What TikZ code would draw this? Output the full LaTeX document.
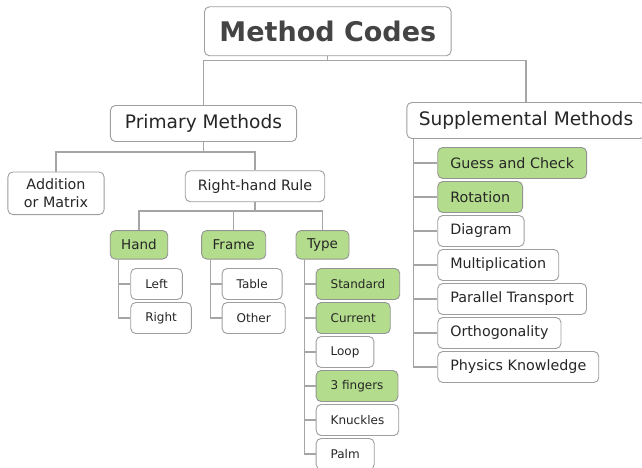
\documentclass[tikz,border=0pt]{standalone}
\usepackage{fontspec}
\setmainfont{DejaVu Sans}
\usepackage{tikz}
\definecolor{leafgreen}{HTML}{B3DD8C}
\definecolor{linegray}{HTML}{A5A5A5}
\definecolor{rimgray}{HTML}{9E9E9E}
\definecolor{inkgray}{HTML}{444444}
\begin{document}
\begin{tikzpicture}[x=1pt,y=-1pt,every text node part/.style={align=center},
box/.style={draw=rimgray,line width=0.9pt,rounded corners=5pt,fill=white,text=black!85,inner ysep=0pt},
topicbox/.style={box,font=\fontsize{27}{32}\selectfont\bfseries,text=inkgray,minimum height=49pt,inner xsep=15pt},
mainbox/.style={box,font=\fontsize{18.6}{22}\selectfont,minimum height=36pt,inner xsep=14.5pt},
branchbox/.style={box,font=\fontsize{14.3}{17.6}\selectfont,minimum height=31pt,inner xsep=12.5pt},
groupbox/.style={box,font=\fontsize{13.5}{16}\selectfont,minimum height=28.5pt,inner xsep=11pt},
leafbox/.style={box,font=\fontsize{12}{14}\selectfont,minimum height=31pt,inner xsep=14.5pt,anchor=west},
picked/.style={fill=leafgreen,draw=gray!85},
link/.style={draw=linegray,line width=1.1pt}]
\useasboundingbox (0,0) rectangle (642,468);
% top levels
\node [topicbox] (codes) at (327.8,31.3) {Method Codes};
\node [mainbox] (primary) at (203.5,123.5) {Primary Methods};
\node [mainbox,inner xsep=12pt] (suppl) at (526,120.5) {Supplemental Methods};
\node [branchbox,inner xsep=16pt,inner ysep=7pt] (addmat) at (56,193.3) {Addition\\or Matrix};
\node [branchbox] (rhrule) at (255,186.2) {Right-hand Rule};
\node [groupbox,picked] (hand) at (139,244.8) {Hand};
\node [groupbox,picked] (frame) at (233.7,244.8) {Frame};
\node [groupbox,picked] (type) at (322.5,244.8) {Type};
% leaves
\node [leafbox] (left) at (130.3,284) {Left};
\node [leafbox] (right) at (130.3,318) {Right};
\node [leafbox] (table) at (221.7,284) {Table};
\node [leafbox] (other) at (221.7,318) {Other};
\node [leafbox,picked] (standard) at (315.7,284) {Standard};
\node [leafbox,picked] (current) at (315.7,318) {Current};
\node [leafbox] (loop) at (315.7,352) {Loop};
\node [leafbox,picked] (fingers) at (315.7,386) {3 fingers};
\node [leafbox] (knuckles) at (315.7,420) {Knuckles};
\node [leafbox] (palm) at (315.7,454) {Palm};
\node [branchbox,anchor=west,picked] (guess) at (437.3,163) {Guess and Check};
\node [branchbox,anchor=west,picked] (rotation) at (437.3,197) {Rotation};
\node [branchbox,anchor=west] (diagram) at (437.3,231) {Diagram};
\node [branchbox,anchor=west] (multi) at (437.3,265) {Multiplication};
\node [branchbox,anchor=west] (parallel) at (437.3,299) {Parallel Transport};
\node [branchbox,anchor=west] (ortho) at (437.3,333) {Orthogonality};
\node [branchbox,anchor=west] (physics) at (437.3,367) {Physics Knowledge};
% connectors
\coordinate (barA) at (0,60.3);
\coordinate (barB) at (0,152);
\coordinate (barC) at (0,211);
\draw [link] (codes.south) -- (codes.south |- barA);
\draw [link] (primary.north) |- (codes.south |- barA) -| (suppl.north);
\draw [link] (primary.south) -- (primary.south |- barB);
\draw [link] (addmat.north) |- (primary.south |- barB) -| (rhrule.north);
\draw [link] (rhrule.south) -- (rhrule.south |- barC);
\draw [link] (hand.north) |- (rhrule.south |- barC) -| (type.north);
\draw [link] (frame.north) -- (frame.north |- barC);
\foreach \leaf in {left,right}
  \draw [link] ([xshift=8.3pt]hand.south west) |- (\leaf.west);
\foreach \leaf in {table,other}
  \draw [link] ([xshift=9.3pt]frame.south west) |- (\leaf.west);
\foreach \leaf in {standard,current,loop,fingers,knuckles,palm}
  \draw [link] ([xshift=8.7pt]type.south west) |- (\leaf.west);
\foreach \leaf in {guess,rotation,diagram,multi,parallel,ortho,physics}
  \draw [link] ([xshift=7.5pt]suppl.south west) |- (\leaf.west);
\end{tikzpicture}
\end{document}
